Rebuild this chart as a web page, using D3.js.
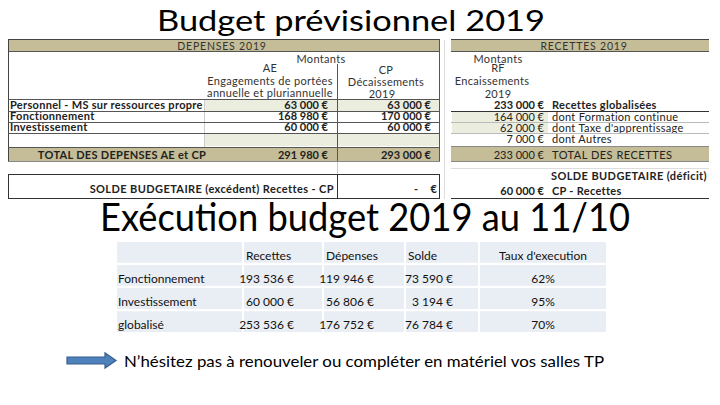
<!DOCTYPE html>
<html><head><meta charset="utf-8">
<script src="https://cdn.jsdelivr.net/npm/d3@7"></script>
<style>html,body{margin:0;padding:0;background:#fff;} svg{display:block;font-family:Lato,"Open Sans",sans-serif;}</style>
</head><body><svg id="c" width="720" height="405"></svg>
<script>
// ---------- data ----------
const titleTop = "Budget prévisionnel 2019";
const titleExec = "Exécution budget 2019 au 11/10";
const noteText = "N’hésitez pas à renouveler ou compléter en matériel vos salles TP";

const depTitle = "DEPENSES 2019";
const depCategories = ["Personnel - MS sur ressources propre", "Fonctionnement", "Investissement"];
const depAE = [63000, 168980, 60000];
const depCP = [63000, 170000, 60000];
const depTotalLabel = "TOTAL DES DEPENSES AE et CP";
const depTotals = [291980, 293000];
const depHeadAE = ["AE", "Engagements de portées", "annuelle et pluriannuelle"];
const depHeadCP = ["CP", "Décaissements", "2019"];
const depSoldeLabel = "SOLDE BUDGETAIRE (excédent) Recettes - CP";
const depSolde = [0];

const recTitle = "RECETTES 2019";
const recHead = ["Montants", "RF", "Encaissements", "2019"];
const recCategories = ["Recettes globalisées", "dont Formation continue", "dont Taxe d'apprentissage", "dont Autres"];
const recRF = [233000, 164000, 62000, 7000];
const recTotalLabel = "TOTAL DES RECETTES";
const recTotal = [233000];
const recSoldeLabels = ["SOLDE BUDGETAIRE (déficit)", "CP - Recettes"];
const recSolde = [60000];

const execCategories = ["Fonctionnement", "Investissement", "globalisé"];
const execColumns = ["Recettes", "Dépenses", "Solde", "Taux d'execution"];
const execRecettes = [193536, 60000, 253536];
const execDepenses = [119946, 56806, 176752];
const execSolde = [73590, 3194, 76784];
const execTaux = [0.62, 0.95, 0.70];

// ---------- setup ----------
const svg = d3.select("#c");
svg.append("rect").attr("width", 720).attr("height", 405).attr("fill", "#fff");
const fr = d3.formatLocale({decimal: ",", thousands: "\u00a0", grouping: [3], currency: ["", "\u00a0€"]});
const eur = fr.format("$,.0f");
const pct = fr.format(".0%");
const TAN = "#C4BD97", GREEN = "#EBEEDF", INK = "#222";
const FS = 11;

// ---------- title ----------
svg.append("text").attr("x", 157).attr("y", 31).attr("font-size", 29)
  .attr("textLength", 388).attr("lengthAdjust", "spacingAndGlyphs").attr("fill", "#000").text(titleTop);

// ---------- DEPENSES table ----------
const xDep = d3.scaleOrdinal().domain(["label", "AE", "CP", "end"]).range([8, 204, 337, 440]);
const yDep = d3.scaleBand().domain(depCategories).range([100, 133]);
const gD = svg.append("g").attr("font-size", FS).attr("fill", INK);

gD.append("rect").attr("x", xDep("label")).attr("y", 40).attr("width", xDep("end") - xDep("label")).attr("height", 11).attr("fill", TAN);
gD.append("text").attr("x", 222).attr("y", 49.5).attr("text-anchor", "middle").attr("fill", "#333").attr("font-size", 10.5).attr("letter-spacing", 0.8).text(depTitle);
// green fills
gD.append("rect").attr("x", xDep("AE")).attr("y", yDep(depCategories[0])).attr("width", xDep("end") - xDep("AE")).attr("height", yDep.bandwidth()).attr("fill", GREEN);
gD.append("rect").attr("x", xDep("AE")).attr("y", 133).attr("width", xDep("end") - xDep("AE")).attr("height", 13).attr("fill", GREEN);
// total band
gD.append("rect").attr("x", xDep("label")).attr("y", 148).attr("width", xDep("end") - xDep("label")).attr("height", 13).attr("fill", TAN);
// header texts
const hd = gD.append("g").attr("fill", "#333").attr("letter-spacing", 0.3);
hd.append("text").attr("x", 321).attr("y", 63).attr("text-anchor", "middle").text("Montants");
hd.selectAll(".hae").data(depHeadAE).join("text").attr("x", 270).attr("y", (d, i) => [72, 85, 97][i])
  .attr("text-anchor", "middle").text(d => d);
hd.selectAll(".hcp").data(depHeadCP).join("text").attr("x", (d, i) => i === 2 ? 382 : 386).attr("y", (d, i) => [74, 86, 98][i])
  .attr("text-anchor", "middle").text(d => d);
// rows
depCategories.forEach((c, i) => {
  const y = yDep(c) + yDep.bandwidth() - 2;
  gD.append("text").attr("x", xDep("label") + 2).attr("y", y).attr("font-weight", 700).attr("letter-spacing", 0.3).text(c);
  gD.append("text").attr("x", xDep("CP") - 9).attr("y", y).attr("font-weight", 700).attr("text-anchor", "end").text(eur(depAE[i]));
  gD.append("text").attr("x", xDep("end") - 9).attr("y", y).attr("font-weight", 700).attr("text-anchor", "end").text(eur(depCP[i]));
});
gD.append("text").attr("x", 122).attr("y", 158.5).attr("text-anchor", "middle").attr("font-weight", 700).attr("letter-spacing", 0.3).text(depTotalLabel);
gD.append("text").attr("x", xDep("CP") - 9).attr("y", 158.5).attr("text-anchor", "end").attr("font-weight", 700).text(eur(depTotals[0]));
gD.append("text").attr("x", xDep("end") - 9).attr("y", 158.5).attr("text-anchor", "end").attr("font-weight", 700).text(eur(depTotals[1]));
// lines
const lineD = (x1, y1, x2, y2, c, w) => gD.append("line").attr("x1", x1).attr("y1", y1).attr("x2", x2).attr("y2", y2).attr("stroke", c).attr("stroke-width", w || 1);
lineD(8, 39.5, 440, 39.5, "#444");
lineD(8, 51.5, 440, 51.5, "#555");
lineD(8.5, 40, 8.5, 162, "#444");
lineD(439.5, 40, 439.5, 162, "#555");
lineD(337.5, 64, 337.5, 162, "#555");
lineD(204.5, 100, 204.5, 148, "#ccc");
[99.5, 111.5, 122.5, 133.5].forEach(y => lineD(8, y, 440, y, "#555"));
lineD(8, 147.5, 440, 147.5, "#555");
lineD(8, 161.5, 440, 161.5, "#888");
// solde box
lineD(337.5, 162, 337.5, 175, "#ccc");
lineD(8, 174.5, 440, 174.5, "#333");
lineD(8, 198.5, 440, 198.5, "#333");
lineD(8.5, 174, 8.5, 199, "#333");
lineD(337.5, 174, 337.5, 199, "#333");
lineD(439.5, 174, 439.5, 199, "#333");
gD.append("text").attr("x", 334).attr("y", 193).attr("text-anchor", "end").attr("font-weight", 700).attr("letter-spacing", 0.4).text(depSoldeLabel);
gD.append("text").attr("x", 414).attr("y", 193).attr("font-weight", 700).text(depSolde[0] === 0 ? "-" : eur(depSolde[0]));
gD.append("text").attr("x", 437).attr("y", 193).attr("text-anchor", "end").attr("font-weight", 700).text("€");

// ---------- RECETTES table ----------
const xRec = d3.scaleOrdinal().domain(["start", "amount", "label", "end"]).range([452, 452, 548, 709]);
const yRec = d3.scaleBand().domain(recCategories).range([100, 145]);
const gR = svg.append("g").attr("font-size", FS).attr("fill", INK);
gR.append("rect").attr("x", 451).attr("y", 40).attr("width", 258).attr("height", 11).attr("fill", TAN);
gR.append("text").attr("x", 584).attr("y", 49.5).attr("text-anchor", "middle").attr("fill", "#333").attr("font-size", 10.5).attr("letter-spacing", 0.8).text(recTitle);
gR.append("g").attr("fill", "#333").attr("letter-spacing", 0.3)
  .selectAll("text").data(recHead).join("text").attr("x", (d, i) => i === 2 ? 492 : 498).attr("y", (d, i) => [63, 72, 85, 98][i])
  .attr("text-anchor", "middle").text(d => d);
recCategories.forEach((c, i) => {
  if (i === 1 || i === 2) gR.append("rect").attr("x", xRec("amount")).attr("y", yRec(c)).attr("width", xRec("label") - xRec("amount")).attr("height", yRec.bandwidth()).attr("fill", GREEN);
  const y = yRec(c) + yRec.bandwidth() - 2;
  gR.append("text").attr("x", xRec("label") - 4).attr("y", y).attr("text-anchor", "end").attr("font-weight", i === 0 ? 700 : 400).text(eur(recRF[i]));
  gR.append("text").attr("x", xRec("label") + 4).attr("y", y).attr("font-weight", i === 0 ? 700 : 400).attr("letter-spacing", 0.3).text(c);
});
gR.append("rect").attr("x", 451).attr("y", 147).attr("width", 258).attr("height", 14).attr("fill", TAN);
gR.append("text").attr("x", xRec("label") - 4).attr("y", 158.5).attr("text-anchor", "end").text(eur(recTotal[0]));
gR.append("text").attr("x", xRec("label") + 4).attr("y", 158.5).attr("letter-spacing", 0.5).text(recTotalLabel);
const lineR = (x1, y1, x2, y2, c) => gR.append("line").attr("x1", x1).attr("y1", y1).attr("x2", x2).attr("y2", y2).attr("stroke", c);
lineR(451, 39.5, 709, 39.5, "#444");
lineR(451, 51.5, 709, 51.5, "#555");
lineR(451, 111.5, 709, 111.5, "#333");
lineR(451, 122.5, 709, 122.5, "#bbb");
lineR(451, 133.5, 709, 133.5, "#bbb");
lineR(451, 146.5, 709, 146.5, "#888");
lineR(451, 161.5, 709, 161.5, "#888");
lineR(444.5, 40, 444.5, 199, "#ddd");
// solde
lineR(451, 168.5, 709, 168.5, "#ddd");
lineR(451, 198.5, 709, 198.5, "#333");
gR.append("text").attr("x", xRec("label") + 3).attr("y", 179.5).attr("font-weight", 700).attr("letter-spacing", 0.4).text(recSoldeLabels[0]);
gR.append("text").attr("x", xRec("label") - 4).attr("y", 194.5).attr("text-anchor", "end").attr("font-weight", 700).text(eur(recSolde[0]));
gR.append("text").attr("x", xRec("label") + 4).attr("y", 194.5).attr("font-weight", 700).attr("letter-spacing", 0.3).text(recSoldeLabels[1]);

// ---------- second title ----------
svg.append("text").attr("x", 100).attr("y", 231).attr("font-size", 38)
  .attr("textLength", 530).attr("lengthAdjust", "spacingAndGlyphs").attr("fill", "#000").text(titleExec);

// ---------- execution table ----------
const colKeys = ["label", ...execColumns];
const xExec = d3.scaleOrdinal().domain(colKeys).range([117, 244, 324, 406, 480]);
const wExec = d3.scaleOrdinal().domain(colKeys).range([125, 78, 80, 72, 126]);
const rowKeys = ["head", ...execCategories];
const yExec = d3.scaleBand().domain(rowKeys).range([242, 332]).paddingInner(0.1);
const gE = svg.append("g").attr("font-size", 12).attr("fill", "#111");
rowKeys.forEach(r => colKeys.forEach(c => {
  gE.append("rect").attr("x", xExec(c)).attr("y", yExec(r)).attr("width", wExec(c)).attr("height", yExec.bandwidth()).attr("fill", "#E9EDF4");
}));
const base = r => yExec(r) + yExec.bandwidth() - 3;
execColumns.forEach((c, j) => {
  const t = gE.append("text").attr("y", base("head")).text(c);
  if (j === 3) t.attr("x", xExec(c) + wExec(c) / 2).attr("text-anchor", "middle");
  else t.attr("x", xExec(c) + 2);
});
execCategories.forEach((r, i) => {
  gE.append("text").attr("x", xExec("label") + 1).attr("y", base(r)).text(r);
  gE.append("text").attr("x", 294).attr("y", base(r)).attr("text-anchor", "end").text(eur(execRecettes[i]));
  gE.append("text").attr("x", 374).attr("y", base(r)).attr("text-anchor", "end").text(eur(execDepenses[i]));
  gE.append("text").attr("x", 453).attr("y", base(r)).attr("text-anchor", "end").text(eur(execSolde[i]));
  gE.append("text").attr("x", xExec("Taux d'execution") + wExec("Taux d'execution") / 2).attr("y", base(r)).attr("text-anchor", "middle").text(pct(execTaux[i]));
});

// ---------- arrow + note ----------
const arrow = d3.path();
arrow.moveTo(67, 357); arrow.lineTo(105, 357); arrow.lineTo(105, 353); arrow.lineTo(116, 360.5);
arrow.lineTo(105, 368); arrow.lineTo(105, 364); arrow.lineTo(67, 364); arrow.closePath();
svg.append("path").attr("d", arrow.toString()).attr("fill", "#4F81BD").attr("stroke", "#385D8A").attr("stroke-width", 1.2);
svg.append("text").attr("x", 124).attr("y", 367).attr("font-size", 16).attr("textLength", 480)
  .attr("lengthAdjust", "spacingAndGlyphs").attr("fill", "#000").text(noteText);
</script></body></html>
